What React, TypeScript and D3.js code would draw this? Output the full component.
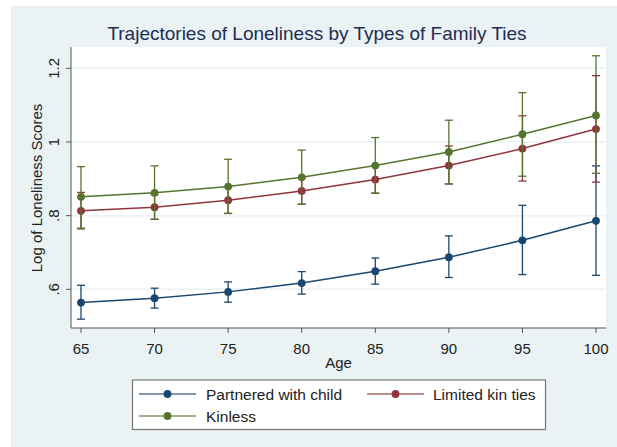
import React from "react";
import * as d3 from "d3";

const ages = [65, 70, 75, 80, 85, 90, 95, 100];
const yTicks = [0.6, 0.8, 1, 1.2];
const yTickLabels = [".6", ".8", "1", "1.2"];
const seriesNames = ["Partnered with child", "Limited kin ties", "Kinless"];
const seriesColors = ["#1a476f", "#90353b", "#55752f"];

const partnered = [0.564, 0.576, 0.593, 0.617, 0.649, 0.687, 0.733, 0.786];
const partneredLo = [0.519, 0.549, 0.565, 0.587, 0.614, 0.632, 0.64, 0.638];
const partneredHi = [0.611, 0.603, 0.62, 0.648, 0.685, 0.745, 0.828, 0.935];

const limited = [0.813, 0.823, 0.842, 0.867, 0.898, 0.936, 0.982, 1.035];
const limitedLo = [0.764, 0.79, 0.806, 0.831, 0.861, 0.886, 0.894, 0.891];
const limitedHi = [0.863, 0.857, 0.878, 0.903, 0.936, 0.989, 1.071, 1.18];

const kinless = [0.851, 0.862, 0.879, 0.904, 0.936, 0.973, 1.021, 1.072];
const kinlessLo = [0.766, 0.79, 0.806, 0.831, 0.861, 0.886, 0.907, 0.915];
const kinlessHi = [0.933, 0.935, 0.953, 0.978, 1.012, 1.059, 1.134, 1.234];

const seriesMeans = [partnered, limited, kinless];
const seriesLo = [partneredLo, limitedLo, kinlessLo];
const seriesHi = [partneredHi, limitedHi, kinlessHi];

const W = 617;
const H = 447;
const plot = { left: 71, right: 606, top: 47, bottom: 328 };
const FONT = "'Liberation Sans', Arial, Helvetica, sans-serif";

export default function App() {
  const x = d3.scaleLinear().domain([65, 100]).range([81, 596]);
  const y = d3.scaleLinear().domain([0.6, 1.2]).range([289.3, 68.3]);
  const line = d3
    .line<number>()
    .x((_, i) => x(ages[i]))
    .y((d) => y(d));
  const cap = 4;

  const legendItems = [
    { i: 0, lx: 139, tx: 206, ty: 394 },
    { i: 1, lx: 367, tx: 433, ty: 394 },
    { i: 2, lx: 139, tx: 206, ty: 416 },
  ];

  return (
    <svg
      width={W}
      height={H}
      style={{ position: "absolute", left: 0, top: 0, fontFamily: FONT }}
    >
      <rect x={0} y={0} width={W} height={H} fill="#ffffff" />
      <rect x={11} y={6} width={W - 11} height={H - 6} fill="#eaf2f3" />
      <rect
        x={plot.left}
        y={plot.top}
        width={plot.right - plot.left}
        height={plot.bottom - plot.top}
        fill="#ffffff"
      />
      {yTicks.map((t) => (
        <line
          key={"g" + t}
          x1={plot.left}
          x2={plot.right}
          y1={y(t)}
          y2={y(t)}
          stroke="#eaf2f3"
          strokeWidth={1.5}
        />
      ))}
      <text x={317} y={39.5} textAnchor="middle" fontSize={19} fill="#1e2d53">
        Trajectories of Loneliness by Types of Family Ties
      </text>
      <line x1={plot.left} x2={plot.left} y1={plot.top} y2={plot.bottom} stroke="#555" strokeWidth={1} />
      <line x1={plot.left} x2={plot.right} y1={plot.bottom} y2={plot.bottom} stroke="#555" strokeWidth={1} />
      {yTicks.map((t, k) => (
        <g key={"yt" + t}>
          <line x1={plot.left - 5} x2={plot.left} y1={y(t)} y2={y(t)} stroke="#555" />
          <text
            transform={`translate(${58.5},${y(t)}) rotate(-90)`}
            textAnchor="middle"
            fontSize={15}
            fill="#222"
          >
            {yTickLabels[k]}
          </text>
        </g>
      ))}
      {ages.map((a) => (
        <g key={"xt" + a}>
          <line x1={x(a)} x2={x(a)} y1={plot.bottom} y2={plot.bottom + 5} stroke="#555" />
          <text x={x(a)} y={353.5} textAnchor="middle" fontSize={15} fill="#222">
            {a}
          </text>
        </g>
      ))}
      <text x={338.5} y={368} textAnchor="middle" fontSize={15} fill="#222">
        Age
      </text>
      <text
        transform={`translate(${41.5},${188}) rotate(-90)`}
        textAnchor="middle"
        fontSize={15}
        fill="#222"
      >
        Log of Loneliness Scores
      </text>
      {seriesMeans.map((vals, s) => (
        <g key={"s" + s}>
          {ages.map((a, i) => (
            <g key={"e" + i} stroke={seriesColors[s]} strokeWidth={1.3}>
              <line x1={x(a)} x2={x(a)} y1={y(seriesLo[s][i])} y2={y(seriesHi[s][i])} />
              <line x1={x(a) - cap} x2={x(a) + cap} y1={y(seriesLo[s][i])} y2={y(seriesLo[s][i])} />
              <line x1={x(a) - cap} x2={x(a) + cap} y1={y(seriesHi[s][i])} y2={y(seriesHi[s][i])} />
            </g>
          ))}
          <path d={line(vals) || ""} fill="none" stroke={seriesColors[s]} strokeWidth={1.5} />
          {ages.map((a, i) => (
            <circle key={"c" + i} cx={x(a)} cy={y(vals[i])} r={3.9} fill={seriesColors[s]} />
          ))}
        </g>
      ))}
      <rect x={132.5} y={380} width={413} height={49.5} fill="#ffffff" stroke="#777" strokeWidth={1.2} />
      {legendItems.map((it) => (
        <g key={"l" + it.i}>
          <line
            x1={it.lx}
            x2={it.lx + 57}
            y1={it.ty}
            y2={it.ty}
            stroke={seriesColors[it.i]}
            strokeWidth={1.5}
            opacity={0.75}
          />
          <circle cx={it.lx + 28.5} cy={it.ty} r={3.9} fill={seriesColors[it.i]} />
          <text x={it.tx} y={it.ty + 5.5} fontSize={15.5} fill="#222">
            {seriesNames[it.i]}
          </text>
        </g>
      ))}
    </svg>
  );
}
